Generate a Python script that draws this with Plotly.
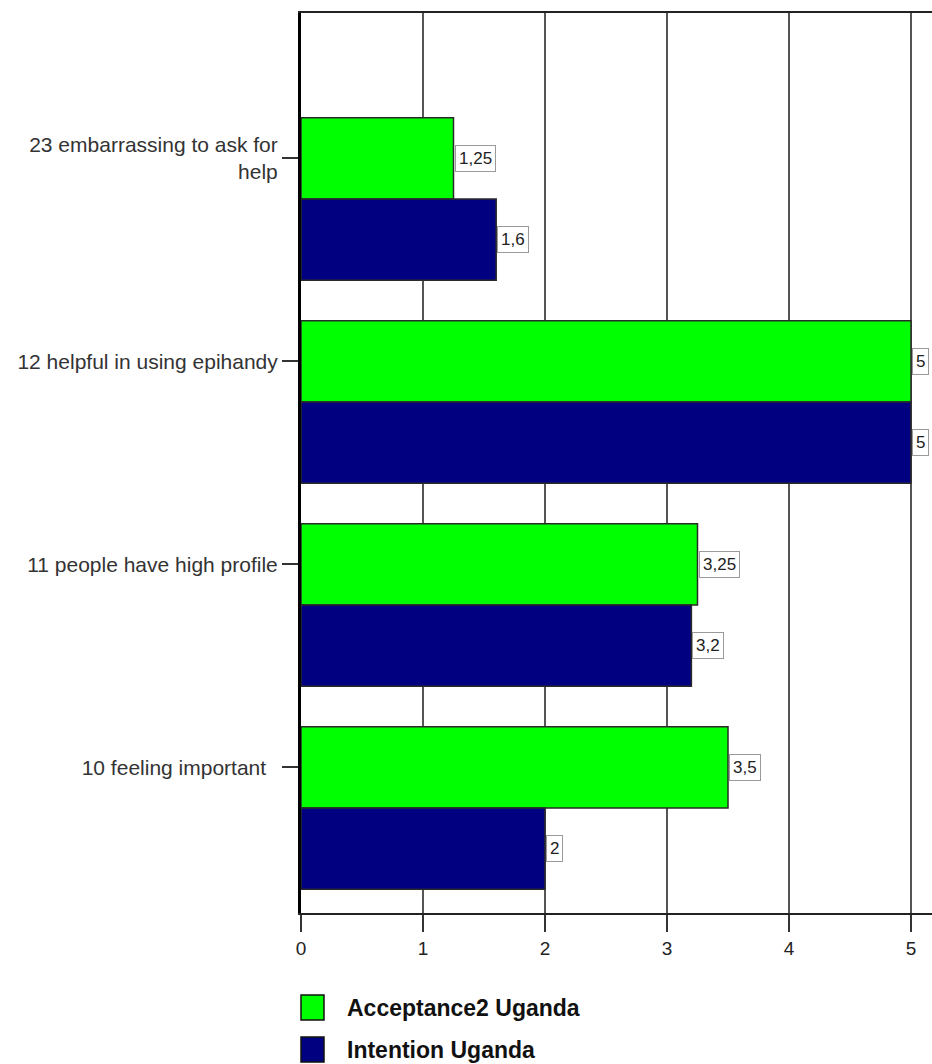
import plotly.graph_objects as go

# ---- data ----
categories = [
    "23 embarrassing to ask for<br>help",
    "12 helpful in using epihandy",
    "11 people have high profile",
    "10 feeling important\u00a0\u00a0",
]
acceptance = [1.25, 5, 3.25, 3.5]
intention = [1.6, 5, 3.2, 2]
series_names = ["Acceptance2 Uganda", "Intention Uganda"]
series_colors = ["#00FF00", "#000080"]
x_ticks = [0, 1, 2, 3, 4, 5]

# ---- layout constants ----
W, H = 932, 1064
L, R, T, B = 301, 0, 13, 151
plot_w = W - L - R
plot_h = H - T - B
px_per_x = 122.0
px_per_y = 203.0
first_center_px = 199 - T
bar_w = 0.4
FONT = "Liberation Sans, Arial, sans-serif"

y_top = -first_center_px / px_per_y
y_bot = y_top + plot_h / px_per_y
x_max = plot_w / px_per_x

idx = list(range(len(categories)))
fig = go.Figure()
for name, vals, col, off in [
    (series_names[0], acceptance, series_colors[0], -bar_w),
    (series_names[1], intention, series_colors[1], 0.0),
]:
    fig.add_trace(go.Bar(
        x=vals, y=idx, orientation="h", name=name,
        width=bar_w, offset=off,
        marker=dict(color=col, line=dict(color="#2a2a2a", width=1.5)),
        showlegend=False,
    ))
    for i, v in zip(idx, vals):
        fig.add_annotation(
            x=v, y=i + off + bar_w / 2, xref="x", yref="y",
            text=("%g" % v).replace(".", ","), showarrow=False,
            xanchor="left", yanchor="middle", xshift=1,
            font=dict(family=FONT, size=17, color="#222"),
            bgcolor="white", bordercolor="#9a9a9a", borderwidth=1, borderpad=3,
        )

# manual legend (pixel -> paper helpers)
def pxx(p):
    return (p - L) / plot_w

def pxy(p):
    return (H - B - p) / plot_h

legend_rows = [(995, 1020), (1037, 1062)]
for (y0, y1), name, col in zip(legend_rows, series_names, series_colors):
    fig.add_shape(type="rect", xref="paper", yref="paper",
                  x0=pxx(301), x1=pxx(324), y0=pxy(y1), y1=pxy(y0),
                  fillcolor=col, line=dict(color="#111", width=1.5))
    fig.add_annotation(x=pxx(345), y=pxy((y0 + y1) / 2), xref="paper", yref="paper",
                       text="<b>%s</b>" % name, showarrow=False,
                       xanchor="left", yanchor="middle",
                       font=dict(family=FONT, size=23, color="#111"))

fig.update_layout(
    width=W, height=H,
    margin=dict(l=L, r=R, t=T, b=B, pad=0),
    paper_bgcolor="white", plot_bgcolor="white",
    barmode="overlay",
    font=dict(family=FONT, color="#222"),
    xaxis=dict(
        range=[0, x_max], tickvals=x_ticks, ticks="outside", ticklen=17,
        tickwidth=2, tickcolor="#333", showgrid=True, gridcolor="#555",
        gridwidth=2, showline=True, linecolor="#222", linewidth=2, mirror=True,
        zeroline=False, tickfont=dict(size=19, color="#222"),
    ),
    yaxis=dict(
        range=[y_bot, y_top], tickvals=[i - bar_w / 2 for i in idx],
        ticktext=categories, ticks="outside", ticklen=16, tickwidth=2,
        tickcolor="#333", showgrid=False, showline=True, linecolor="#000",
        linewidth=3, zeroline=False, tickfont=dict(size=21, color="#333"),
    ),
)

fig.write_html("out.html")
